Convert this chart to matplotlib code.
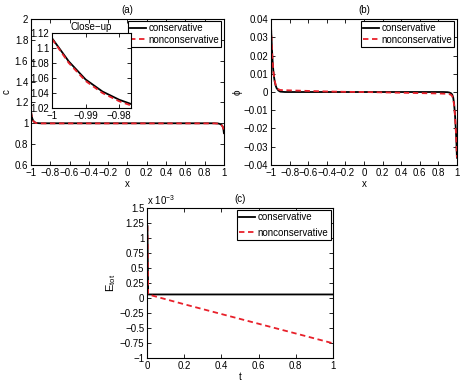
import matplotlib
matplotlib.use("Agg")
import matplotlib.pyplot as plt
from matplotlib.ticker import FuncFormatter

plt.rcParams['font.family'] = ['Liberation Sans', 'DejaVu Sans']
plt.rcParams['font.size'] = 7
plt.rcParams['mathtext.fontset'] = 'custom'
plt.rcParams['mathtext.rm'] = 'Liberation Sans'
plt.rcParams['mathtext.it'] = 'Liberation Sans'

# ---- data ----
x_grid = [-1.0, -0.995, -0.99, -0.985, -0.98, -0.975, -0.97, -0.96, -0.95, -0.94,
          -0.92, -0.9, -0.85, -0.8, -0.6, -0.4, -0.2, 0.0, 0.2, 0.4, 0.6, 0.8,
          0.85, 0.9, 0.92, 0.94, 0.95, 0.96, 0.97, 0.98, 0.99, 0.995, 1.0]

c_cons = [1.113, 1.082, 1.058, 1.042, 1.031, 1.023, 1.017, 1.009, 1.005, 1.003,
          1.001, 1.0, 1.0, 1.0, 1.0, 1.0, 1.0, 1.0, 1.0, 1.0, 1.0, 1.0,
          1.0, 1.0, 0.999, 0.998, 0.996, 0.993, 0.988, 0.979, 0.962, 0.945, 0.905]
c_noncons = [1.112, 1.080, 1.056, 1.040, 1.029, 1.021, 1.015, 1.008, 1.004, 1.002,
             1.0, 0.999, 0.999, 0.999, 0.999, 0.999, 0.999, 0.999, 0.999, 0.999, 0.999, 0.999,
             0.999, 0.999, 0.998, 0.997, 0.995, 0.992, 0.987, 0.978, 0.961, 0.944, 0.904]

phi_cons = [0.036, 0.030, 0.024, 0.019, 0.015, 0.0118, 0.0092, 0.0058, 0.0036, 0.0022,
            0.0008, 0.0002, 0.0, 0.0, 0.0, 0.0, 0.0, 0.0, 0.0, 0.0, 0.0, 0.0,
            0.0, -0.0001, -0.0003, -0.0008, -0.0015, -0.003, -0.0065, -0.013, -0.022, -0.028, -0.036]
phi_noncons = [0.036, 0.030, 0.024, 0.019, 0.015, 0.0120, 0.0095, 0.0062, 0.0040, 0.0027,
               0.0015, 0.0011, 0.001, 0.0009, 0.0006, 0.0003, 0.0001, 0.0, -0.0002, -0.0004, -0.0006, -0.0008,
               -0.0009, -0.001, -0.0012, -0.0017, -0.0024, -0.0038, -0.0072, -0.0135, -0.0225, -0.0285, -0.036]

t_vals = [0.002, 0.006, 0.2, 0.4, 0.6, 0.8, 1.0]
E_cons = [1.2, 0.058, 0.058, 0.058, 0.058, 0.058, 0.058]          # x 1e-3
E_noncons = [1.2, 0.058, -0.105, -0.268, -0.43, -0.592, -0.755]   # x 1e-3

ticks_x = [-1, -0.8, -0.6, -0.4, -0.2, 0, 0.2, 0.4, 0.6, 0.8, 1]
ticks_c = [0.6, 0.8, 1, 1.2, 1.4, 1.6, 1.8, 2]
ticks_phi = [-0.04, -0.03, -0.02, -0.01, 0, 0.01, 0.02, 0.03, 0.04]
ticks_t = [0, 0.2, 0.4, 0.6, 0.8, 1]
ticks_E = [-1, -0.75, -0.5, -0.25, 0, 0.25, 0.5, 0.75, 1, 1.25, 1.5]
ticks_inset_x = [-1, -0.99, -0.98]
ticks_inset_y = [1.02, 1.04, 1.06, 1.08, 1.1, 1.12]


def fmt(v, pos=None):
    s = ('%.4f' % v).rstrip('0').rstrip('.')
    if s in ('-0', ''):
        s = '0'
    return s.replace('-', '\u2212')


def style(ax):
    ax.tick_params(direction='in', top=True, right=True, length=3, width=0.6, pad=2, labelsize=7)
    for sp in ax.spines.values():
        sp.set_linewidth(0.8)
    ax.xaxis.set_major_formatter(FuncFormatter(fmt))
    ax.yaxis.set_major_formatter(FuncFormatter(fmt))


def add_legend(ax, spacing):
    leg = ax.legend(loc='upper right', fontsize=7, frameon=True, fancybox=False, handlelength=1.7,
                    borderpad=0.2, labelspacing=spacing, handletextpad=0.25, borderaxespad=0.25)
    leg.get_frame().set_edgecolor('black')
    leg.get_frame().set_linewidth(0.8)
    leg.get_frame().set_alpha(1)


fig = plt.figure(figsize=(4.66, 3.81), dpi=100)

lw = 1.3
red = '#e8202a'
dash = (0, (3, 2))

# (a)
axa = fig.add_axes([0.0665, 0.567, 0.414, 0.383])
axa.plot(x_grid, c_cons, color='black', lw=lw, label='conservative')
axa.plot(x_grid, c_noncons, color=red, lw=lw, ls=dash, label='nonconservative')
axa.set_xlim(-1, 1)
axa.set_ylim(0.6, 2)
axa.set_xticks(ticks_x)
axa.set_yticks(ticks_c)
style(axa)
axa.set_xlabel('x', labelpad=1)
axa.set_ylabel('c', labelpad=2)
axa.set_title('(a)', fontsize=7, pad=4)
add_legend(axa, 0.15)

# inset
axi = fig.add_axes([0.1116, 0.7165, 0.1695, 0.197])
axi.plot(x_grid, c_cons, color='black', lw=lw)
axi.plot(x_grid, c_noncons, color=red, lw=lw, ls=dash)
axi.set_xlim(-1, -0.9765)
axi.set_ylim(1.02, 1.12)
axi.set_xticks(ticks_inset_x)
axi.set_yticks(ticks_inset_y)
style(axi)
axi.set_title('Close\u2212up', fontsize=7, pad=2)

# (b)
axb = fig.add_axes([0.5815, 0.567, 0.399, 0.383])
axb.plot(x_grid, phi_cons, color='black', lw=lw, label='conservative')
axb.plot(x_grid, phi_noncons, color=red, lw=lw, ls=dash, label='nonconservative')
axb.set_xlim(-1, 1)
axb.set_ylim(-0.04, 0.04)
axb.set_xticks(ticks_x)
axb.set_yticks(ticks_phi)
style(axb)
axb.set_xlabel('x', labelpad=1)
axb.set_ylabel('\u03d5', labelpad=1)
axb.set_title('(b)', fontsize=7, pad=4)
add_legend(axb, 0.15)

# (c)
axc = fig.add_axes([0.3155, 0.0604, 0.399, 0.394])
axc.plot(t_vals, E_cons, color='black', lw=lw, label='conservative')
axc.plot(t_vals, E_noncons, color=red, lw=lw, ls=dash, label='nonconservative')
axc.set_xlim(0, 1)
axc.set_ylim(-1, 1.5)
axc.set_xticks(ticks_t)
axc.set_yticks(ticks_E)
style(axc)
axc.set_xlabel('t', labelpad=1)
axc.set_ylabel('E$_{tot}$', labelpad=1, fontsize=8)
axc.set_title('(c)', fontsize=7, pad=4)
axc.text(0.0, 1.005, 'x 10$^{\u22123}$', transform=axc.transAxes, fontsize=7, va='bottom', ha='left')
add_legend(axc, 0.55)

fig.savefig('out.png', dpi=100)
